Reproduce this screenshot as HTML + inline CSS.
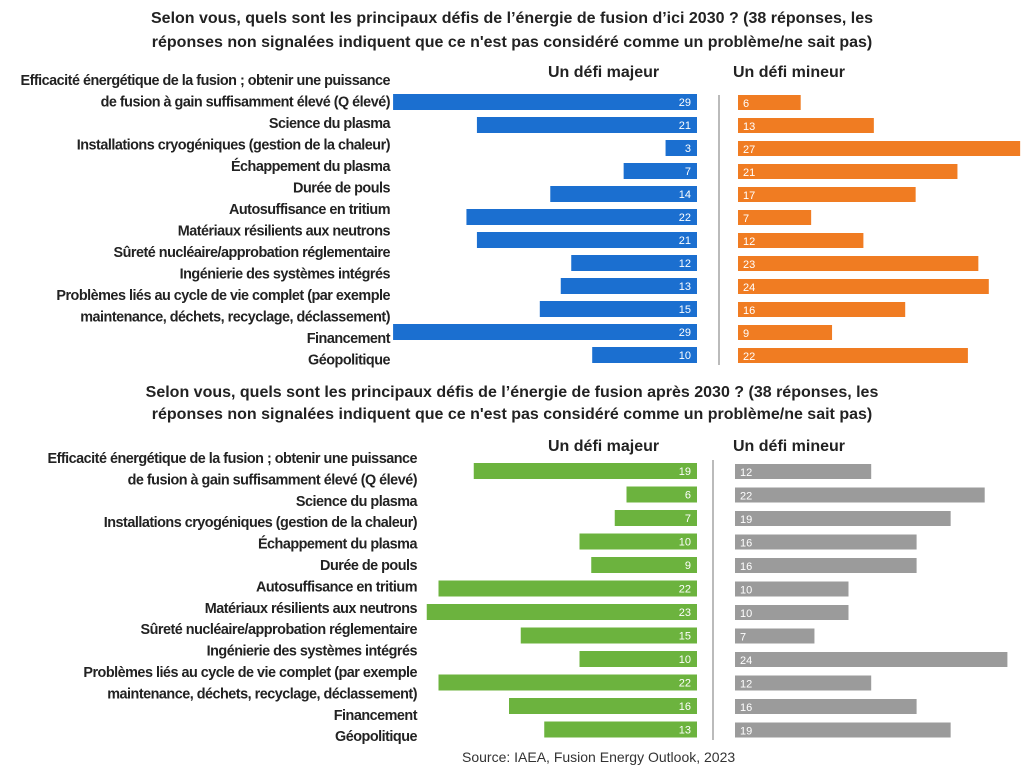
<!DOCTYPE html>
<html><head><meta charset="utf-8"><style>
html,body{margin:0;padding:0;background:#fff;}
svg{display:block;font-family:"Liberation Sans",sans-serif;}
.t{font-weight:bold;font-size:16px;fill:#222;text-anchor:middle;}
.h{font-weight:bold;font-size:16px;fill:#222;}
.l{font-size:14.4px;fill:#222;text-anchor:end;letter-spacing:-0.5px;font-weight:bold;}
.v{font-size:11px;fill:#fff;}
</style></head><body>
<svg width="1024" height="779" viewBox="0 0 1024 779" xmlns="http://www.w3.org/2000/svg">
<text class="t" x="512" y="23">Selon vous, quels sont les principaux défis de l’énergie de fusion d’ici 2030 ? (38 réponses, les</text>
<text class="t" x="512" y="47">réponses non signalées indiquent que ce n'est pas considéré comme un problème/ne sait pas)</text>
<text class="h" x="548" y="77">Un défi majeur</text>
<text class="h" x="733" y="77">Un défi mineur</text>
<line x1="719" y1="95" x2="719" y2="365" stroke="#bbb" stroke-width="2"/>
<g id="top"></g>
<text class="t" x="512" y="397">Selon vous, quels sont les principaux défis de l’énergie de fusion après 2030 ? (38 réponses, les</text>
<text class="t" x="512" y="419">réponses non signalées indiquent que ce n'est pas considéré comme un problème/ne sait pas)</text>
<text class="h" x="548" y="451">Un défi majeur</text>
<text class="h" x="733" y="451">Un défi mineur</text>
<line x1="713" y1="460" x2="713" y2="740" stroke="#bbb" stroke-width="2"/>
<g id="bot"></g>
<text x="462" y="762" style="font-size:14px;fill:#333">Source: IAEA, Fusion Energy Outlook, 2023</text>
</svg>
<script>
var NS="http://www.w3.org/2000/svg";
function el(p,n,a,t){var e=document.createElementNS(NS,n);for(var k in a)e.setAttribute(k,a[k]);if(t!==undefined)e.textContent=t;p.appendChild(e);return e;}
var labels=["Efficacité énergétique de la fusion ; obtenir une puissance","de fusion à gain suffisamment élevé (Q élevé)","Science du plasma","Installations cryogéniques (gestion de la chaleur)","Échappement du plasma","Durée de pouls","Autosuffisance en tritium","Matériaux résilients aux neutrons","Sûreté nucléaire/approbation réglementaire","Ingénierie des systèmes intégrés","Problèmes liés au cycle de vie complet (par exemple","maintenance, déchets, recyclage, déclassement)","Financement","Géopolitique"];
function draw(id,lx,ly0,lstep,by0,bstep,maj,min,cm,cn,rx,ux,lx2,ux2){
var g=document.getElementById(id);
labels.forEach(function(s,i){el(g,"text",{"class":"l",x:lx,y:ly0+lstep*i+5},s);});
maj.forEach(function(v,i){var y=by0+bstep*i-8;var w=v*ux;
el(g,"rect",{x:rx-w,y:y,width:w,height:16,fill:cm});
el(g,"text",{"class":"v",x:rx-6,y:y+12,"text-anchor":"end"},v);
var w2=min[i]*ux2;el(g,"rect",{x:lx2,y:y+1,width:w2,height:15,fill:cn});
el(g,"text",{"class":"v",x:lx2+5,y:y+13},min[i]);});
}
draw("top",390,80,21.5,102,23,[29,21,3,7,14,22,21,12,13,15,29,10],[6,13,27,21,17,7,12,23,24,16,9,22],"#1b6fd0","#f07c22",697,10.48,738,10.45);
draw("bot",417,458,21.4,471,23.5,[19,6,7,10,9,22,23,15,10,22,16,13],[12,22,19,16,16,10,10,7,24,12,16,19],"#6cb33e","#9b9b9b",697,11.75,735,11.35);
</script>
</body></html>
